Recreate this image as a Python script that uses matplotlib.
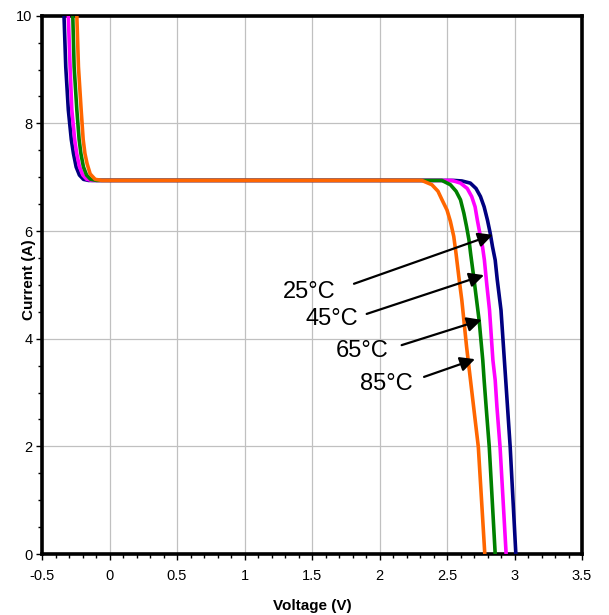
import matplotlib
matplotlib.use("Agg")
import matplotlib.pyplot as plt
from matplotlib.ticker import MultipleLocator

plt.rcParams['font.family'] = ['Liberation Sans', 'DejaVu Sans']

# ---- data ----
labels = ["25°C", "45°C", "65°C", "85°C"]
colors = ["#000080", "#FF00FF", "#008000", "#FF6600"]

v25 = [-0.337, -0.324, -0.305, -0.283, -0.267, -0.247, -0.223, -0.193, -0.156,
       2.4, 2.55, 2.61, 2.673, 2.715, 2.748, 2.775, 2.80, 2.82, 2.837, 2.857,
       2.872, 2.900, 2.925, 2.935, 2.968, 3.01]
i25 = [10, 9.05, 8.25, 7.7, 7.44, 7.19, 7.04, 6.96, 6.94,
       6.94, 6.94, 6.93, 6.89, 6.79, 6.64, 6.45, 6.2, 5.96, 5.71, 5.46,
       5.1, 4.53, 3.6, 3.23, 1.99, 0]

v45 = [-0.305, -0.292, -0.279, -0.258, -0.243, -0.222, -0.198, -0.168, -0.13,
       2.35, 2.537, 2.6, 2.65, 2.683, 2.708, 2.725, 2.743, 2.763, 2.777,
       2.795, 2.815, 2.84, 2.857, 2.87, 2.893, 2.938]
i45 = [10, 9.05, 8.25, 7.7, 7.44, 7.19, 7.04, 6.96, 6.94,
       6.94, 6.94, 6.89, 6.79, 6.64, 6.45, 6.2, 5.96, 5.71, 5.46,
       5.0, 4.53, 3.6, 3.23, 2.73, 1.99, 0]

v65 = [-0.272, -0.262, -0.242, -0.225, -0.212, -0.193, -0.17, -0.14, -0.095,
       2.3, 2.462, 2.525, 2.567, 2.60, 2.625, 2.645, 2.663, 2.675, 2.695,
       2.72, 2.738, 2.765, 2.775, 2.79, 2.813, 2.857]
i65 = [10, 9.05, 8.25, 7.7, 7.44, 7.19, 7.04, 6.96, 6.94,
       6.94, 6.94, 6.86, 6.74, 6.58, 6.33, 6.08, 5.83, 5.58, 5.2,
       4.7, 4.34, 3.6, 3.23, 2.73, 1.99, 0]

v85 = [-0.242, -0.23, -0.21, -0.195, -0.182, -0.166, -0.143, -0.106, -0.056,
       2.2, 2.313, 2.388, 2.433, 2.463, 2.5, 2.525, 2.55, 2.567, 2.59,
       2.61, 2.645, 2.68, 2.732, 2.78]
i85 = [10, 9.05, 8.25, 7.7, 7.44, 7.25, 7.06, 6.96, 6.94,
       6.94, 6.94, 6.86, 6.74, 6.58, 6.39, 6.18, 5.9, 5.58, 5.1,
       4.71, 3.85, 3.1, 1.99, 0]

volts = [v25, v45, v65, v85]
currents = [i25, i45, i65, i85]

# annotation text positions and arrow tails/heads (V, I)
text_pos = [(1.478, 4.87), (1.648, 4.37), (1.870, 3.77), (2.052, 3.16)]
arrow_tail = [(1.811, 5.02), (1.905, 4.46), (2.164, 3.88), (2.33, 3.29)]
arrow_head = [(2.839, 5.93), (2.774, 5.18), (2.757, 4.35), (2.707, 3.62)]

# ---- figure ----
fig = plt.figure(figsize=(6.09, 6.15), dpi=100)
ax = fig.add_axes([42/609, 1-554/615, 540/609, 538.3/615])

for v, i, c in zip(volts, currents, colors):
    ax.plot(v, i, color=c, lw=2.6, solid_joinstyle='round', solid_capstyle='butt', zorder=3)

for lab, tp, tl, hd in zip(labels, text_pos, arrow_tail, arrow_head):
    ax.text(tp[0], tp[1], lab, fontsize=17, ha='center', va='center', zorder=5)
    ax.annotate("", xy=hd, xytext=tl,
                arrowprops=dict(arrowstyle='-|>', color='black', lw=1.6,
                                mutation_scale=22, shrinkA=0, shrinkB=0),
                zorder=5)

ax.set_xlim(-0.5, 3.5)
ax.set_ylim(0, 10)
ax.xaxis.set_minor_locator(MultipleLocator(0.1))
ax.yaxis.set_minor_locator(MultipleLocator(0.5))
ax.set_xticks([-0.5, 0, 0.5, 1, 1.5, 2, 2.5, 3, 3.5])
ax.set_xticklabels(["-0.5", "0", "0.5", "1", "1.5", "2", "2.5", "3", "3.5"])
ax.set_yticks([0, 2, 4, 6, 8, 10])
ax.set_yticklabels(["0", "2", "4", "6", "8", "10"])

ax.grid(True, which='major', color='#c0c0c0', lw=0.9)
ax.set_axisbelow(True)
for s in ax.spines.values():
    s.set_linewidth(2.6)
    s.set_color('black')

ax.tick_params(which='major', direction='out', length=4, width=1, labelsize=10.5, pad=3)
ax.tick_params(which='minor', direction='out', length=3, width=1)
ax.tick_params(axis='x', pad=6.5)

ax.set_xlabel("Voltage (V)", fontsize=11, fontweight='bold', labelpad=11.5)
ax.set_ylabel("Current (A)", fontsize=11, fontweight='bold')
ax.yaxis.set_label_coords(-0.012, 0.51)

fig.savefig("out.png", dpi=100)
